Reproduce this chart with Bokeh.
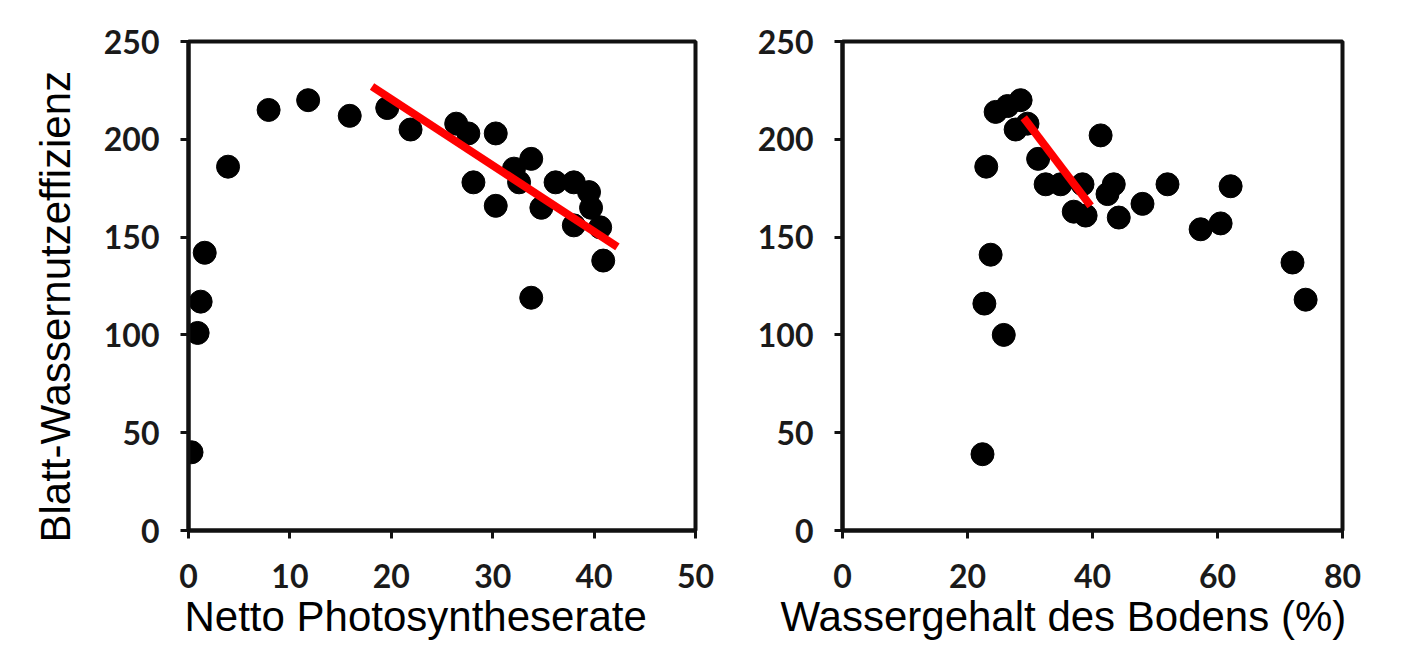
from bokeh.plotting import figure
from bokeh.layouts import row
from bokeh.models import FixedTicker, Range1d, Title
from bokeh.embed import file_html
from bokeh.resources import INLINE

# ---- data ----
photo_x = [0.3, 0.9, 1.2, 1.6, 3.9, 7.9, 11.8, 15.9, 19.6, 21.9, 26.4, 27.6, 30.3, 28.1,
           30.3, 32.1, 32.6, 33.8, 33.8, 34.8, 36.2, 38.0, 39.5, 39.7, 38.0, 40.6, 40.9]
photo_y = [40, 101, 117, 142, 186, 215, 220, 212, 216, 205, 208, 203, 203, 178,
           166, 185, 178, 190, 119, 165, 178, 178, 173, 165, 156, 155, 138]

soil_x = [22.4, 25.8, 22.7, 23.7, 23.0, 24.5, 26.4, 28.5, 27.7, 29.6, 31.3, 32.5, 34.9, 38.4,
          37.0, 38.9, 41.3, 42.4, 43.4, 44.2, 48.0, 52.0, 57.3, 60.5, 62.1, 72.0, 74.1]
soil_y = [39, 100, 116, 141, 186, 214, 217, 220, 205, 208, 190, 177, 177, 177,
          163, 161, 202, 172, 177, 160, 167, 177, 154, 157, 176, 137, 118]

fit_photo_x = [18.1, 42.3]
fit_photo_y = [227, 145]
fit_soil_x = [29.0, 39.7]
fit_soil_y = [211, 166]

y_ticks = [0, 50, 100, 150, 200, 250]
photo_ticks = [0, 10, 20, 30, 40, 50]
soil_ticks = [0, 20, 40, 60, 80]

y_title = "Blatt-Wassernutzeffizienz"
photo_title = "Netto Photosyntheserate"
soil_title = "Wassergehalt des Bodens (%)"

TICK_FONT = "Lato"
TITLE_FONT = "Liberation Sans"


def style(p, xticks):
    p.outline_line_color = "#111111"
    p.outline_line_width = 4
    p.xgrid.visible = False
    p.ygrid.visible = False
    p.background_fill_color = "white"
    p.border_fill_color = "white"
    for ax in (p.xaxis[0], p.yaxis[0]):
        ax.axis_line_color = "#111111"
        ax.axis_line_width = 4
        ax.major_tick_line_color = "#111111"
        ax.major_tick_line_width = 3
        ax.major_tick_in = 0
        ax.major_tick_out = 8
        ax.minor_tick_line_color = None
        ax.major_label_text_font = TICK_FONT
        ax.major_label_text_font_style = "bold"
        ax.major_label_text_font_size = "32px"
        ax.major_label_text_color = "#1a1a1a"
    p.xaxis[0].ticker = FixedTicker(ticks=xticks)
    p.yaxis[0].ticker = FixedTicker(ticks=y_ticks)
    p.yaxis[0].major_label_standoff = 21
    p.xaxis[0].major_label_standoff = 25


def axis_title(text, offset, standoff, valign):
    return Title(text=text, align="left", offset=offset, standoff=standoff,
                 vertical_align=valign, text_font=TITLE_FONT, text_font_size="42px",
                 text_font_style="normal", text_color="black")


p1 = figure(width=718, height=663, output_backend="svg", toolbar_location=None,
            x_range=Range1d(0, 50), y_range=Range1d(0, 250),
            min_border_left=188, min_border_right=23,
            min_border_top=41, min_border_bottom=126)
style(p1, photo_ticks)
p1.add_layout(axis_title(photo_title, -4, 4, "top"), "below")
p1.add_layout(axis_title(y_title, -12, 44, "bottom"), "left")
p1.scatter(photo_x, photo_y, size=23, color="black", line_color="black")
p1.line(fit_photo_x, fit_photo_y, line_color="#ff0000", line_width=8)

p2 = figure(width=680, height=663, output_backend="svg", toolbar_location=None,
            x_range=Range1d(0, 80), y_range=Range1d(0, 250),
            min_border_left=124, min_border_right=56,
            min_border_top=40, min_border_bottom=133)
style(p2, soil_ticks)
p2.add_layout(axis_title(soil_title, -62, 4, "top"), "below")
p2.scatter(soil_x, soil_y, size=23, color="black", line_color="black")
p2.line(fit_soil_x, fit_soil_y, line_color="#ff0000", line_width=8)

layout = row(p1, p2)
open("out.html", "w").write(file_html(layout, INLINE))
